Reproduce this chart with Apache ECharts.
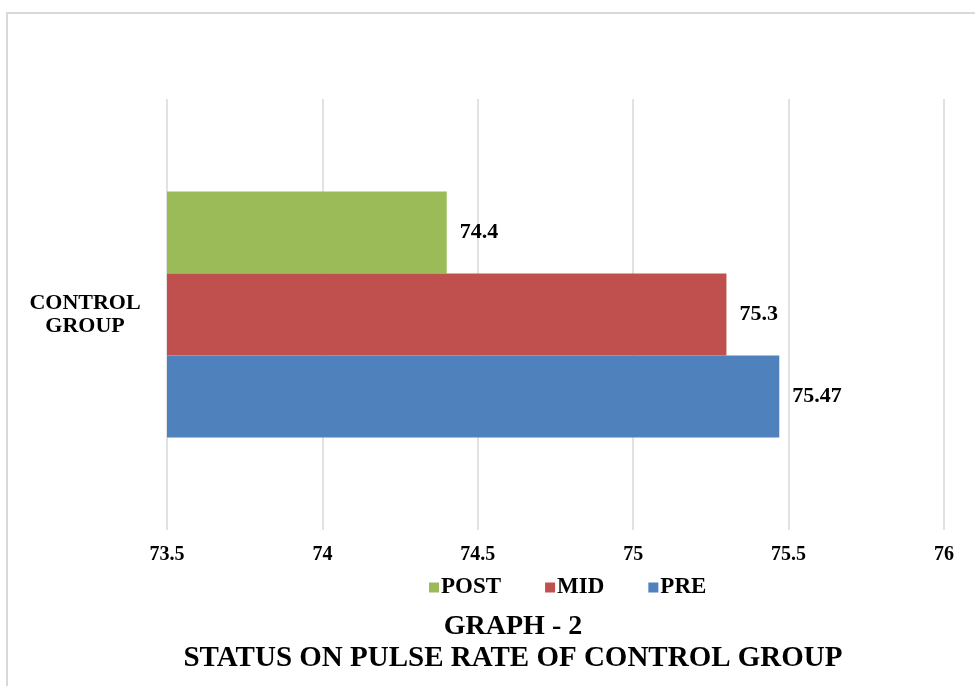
<!DOCTYPE html>
<html>
<head>
<meta charset="utf-8">
<script src="https://cdn.jsdelivr.net/npm/echarts@6/dist/echarts.min.js"></script>
<style>
  html, body { margin: 0; padding: 0; background: #fff; }
  #chart { width: 975px; height: 686px; }
</style>
</head>
<body>
<div id="chart"></div>
<script>
const categories = ['CONTROL\nGROUP']
// first series is drawn at the top of the band
const seriesNames = ['POST', 'MID', 'PRE']
const postValues = [74.4]
const midValues = [75.3]
const preValues = [75.47]
const legendOrder = ['POST', 'MID', 'PRE']
const colors = { PRE: '#4F81BD', MID: '#C0504D', POST: '#9BBB59' }

const font = '"Liberation Serif", "Times New Roman", serif'
const seriesData = { PRE: preValues, MID: midValues, POST: postValues }

const myChart = echarts.init(document.getElementById('chart'), null, { renderer: 'canvas' })

const option = {
    backgroundColor: '#fff',
    animation: false,
    graphic: [
        {
            type: 'rect',
            shape: { x: 7, y: 13, width: 1000, height: 700 },
            style: { fill: 'none', stroke: '#d9d9d9', lineWidth: 2 },
            silent: true,
        },
    ],
    title: {
        text: 'GRAPH - 2',
        subtext: 'STATUS ON PULSE RATE OF CONTROL GROUP',
        left: 508,
        textAlign: 'center',
        top: 608,
        itemGap: 3,
        textStyle: { fontFamily: font, fontWeight: 'bold', fontSize: 28, color: '#000' },
        subtextStyle: { fontFamily: font, fontWeight: 'bold', fontSize: 29, color: '#000' },
    },
    legend: {
        data: legendOrder,
        left: 424,
        top: 571,
        itemWidth: 10,
        itemHeight: 10,
        itemGap: 44,
        icon: 'rect',
        textStyle: { fontFamily: font, fontWeight: 'bold', fontSize: 23, color: '#000', padding: [0, 0, 0, -3] },
    },
    grid: {
        left: 167,
        right: 31,
        top: 99,
        bottom: 156,
    },
    xAxis: {
        type: 'value',
        min: 73.5,
        max: 76,
        interval: 0.5,
        axisLine: { show: false },
        axisTick: { show: false },
        axisLabel: {
            margin: 15,
            fontFamily: font,
            fontWeight: 'bold',
            fontSize: 20,
            color: '#000',
        },
        splitLine: { show: true, lineStyle: { color: '#d9d9d9', width: 1.5 } },
    },
    yAxis: {
        type: 'category',
        data: categories,
        axisLine: { show: false },
        axisTick: { show: false },
        axisLabel: {
            margin: 82,
            align: 'center',
            lineHeight: 23,
            fontFamily: font,
            fontWeight: 'bold',
            fontSize: 22,
            color: '#000',
        },
    },
    series: seriesNames.map((name) => ({
        name: name,
        type: 'bar',
        data: seriesData[name],
        barWidth: 82,
        barGap: '0%',
        itemStyle: { color: colors[name] },
        label: {
            show: true,
            position: 'right',
            distance: 13,
            fontFamily: font,
            fontWeight: 'bold',
            fontSize: 22,
            color: '#000',
        },
    })),
}

myChart.setOption(option)
</script>
</body>
</html>
